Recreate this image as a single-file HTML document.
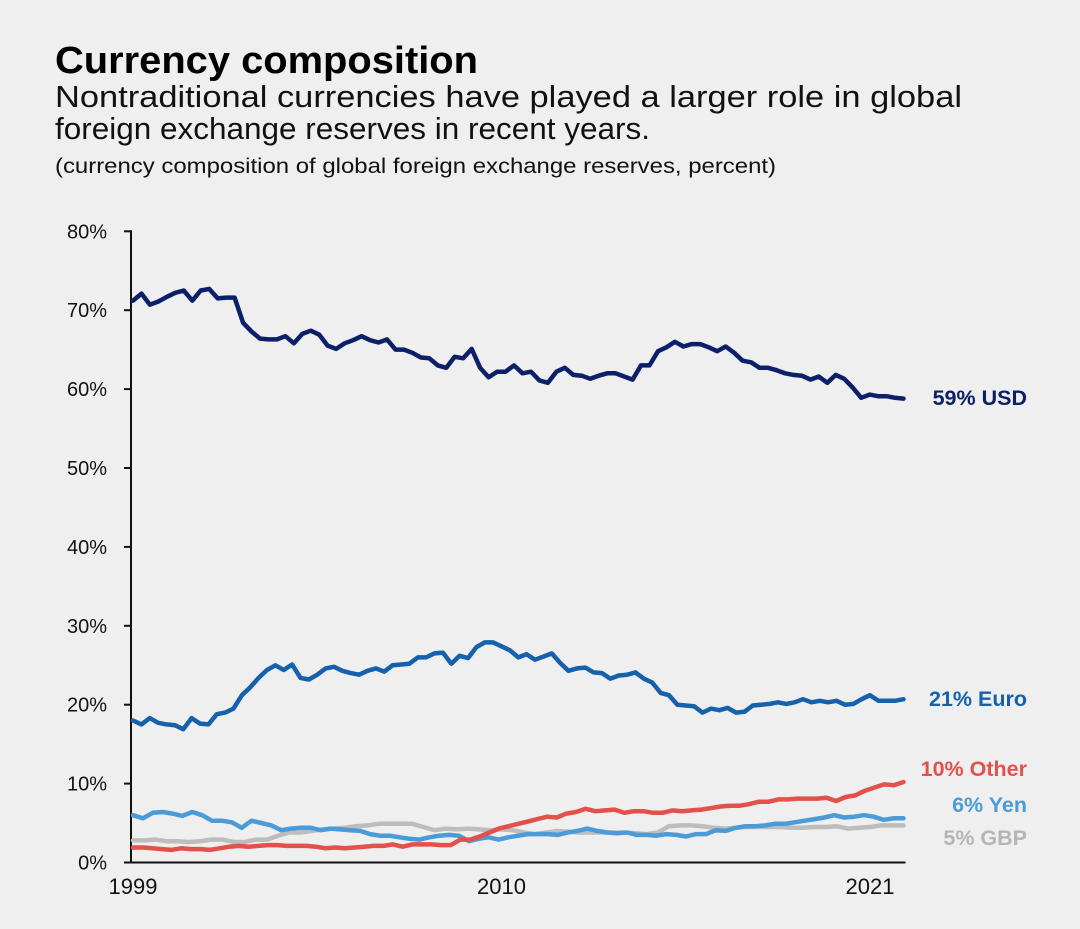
<!DOCTYPE html>
<html><head><meta charset="utf-8"><style>
html,body{margin:0;padding:0;background:#efefef;}
svg{display:block;font-family:"Liberation Sans",sans-serif;}
</style></head><body>
<svg id="chart" width="1080" height="929" viewBox="0 0 1080 929">
<rect x="0" y="0" width="1080" height="929" fill="#efefef"/>
<text x="55" y="73" font-size="38" font-weight="bold" fill="#000" textLength="423" lengthAdjust="spacingAndGlyphs">Currency composition</text>
<text x="55" y="107" font-size="31" fill="#111" textLength="907" lengthAdjust="spacingAndGlyphs">Nontraditional currencies have played a larger role in global</text>
<text x="55" y="139" font-size="31" fill="#111" textLength="595" lengthAdjust="spacingAndGlyphs">foreign exchange reserves in recent years.</text>
<text x="55" y="173" font-size="21" fill="#111" textLength="721" lengthAdjust="spacingAndGlyphs">(currency composition of global foreign exchange reserves, percent)</text>
<g id="axes"></g>
<g id="series"></g>
<g id="labels"></g>
</svg>
<script>
const yTicks=[0,10,20,30,40,50,60,70,80];
const xTickYears=[1999,2010,2021];
const usd=[71.2,72.1,70.7,71.1,71.7,72.2,72.5,71.2,72.5,72.7,71.5,71.6,71.6,68.4,67.3,66.4,66.3,66.3,66.7,65.8,67.0,67.4,66.9,65.5,65.1,65.8,66.2,66.7,66.2,65.9,66.3,65.0,65.0,64.6,64.0,63.9,63.0,62.7,64.1,63.9,65.1,62.7,61.5,62.2,62.2,63.0,62.0,62.2,61.1,60.8,62.2,62.7,61.8,61.7,61.3,61.7,62.0,62.0,61.6,61.2,63.0,63.0,64.8,65.3,66.0,65.4,65.7,65.7,65.3,64.8,65.4,64.6,63.6,63.4,62.7,62.7,62.4,62.0,61.8,61.7,61.2,61.6,60.8,61.8,61.3,60.2,58.9,59.3,59.1,59.1,58.9,58.8];
const euro=[18.0,17.5,18.3,17.7,17.5,17.4,16.9,18.3,17.6,17.5,18.8,19.0,19.5,21.2,22.2,23.4,24.4,25.0,24.4,25.1,23.4,23.2,23.8,24.6,24.8,24.3,24.0,23.8,24.3,24.6,24.2,25.0,25.1,25.2,26.0,26.0,26.5,26.6,25.2,26.2,25.9,27.3,27.9,27.9,27.4,26.9,26.0,26.4,25.7,26.1,26.5,25.3,24.3,24.6,24.7,24.1,24.0,23.3,23.7,23.8,24.1,23.3,22.8,21.5,21.2,20.0,19.9,19.8,19.0,19.5,19.3,19.6,19.0,19.1,19.9,20.0,20.1,20.3,20.1,20.3,20.7,20.3,20.5,20.3,20.5,20.0,20.1,20.7,21.2,20.5,20.5,20.5,20.7];
const yen=[6.0,5.6,6.3,6.4,6.2,5.9,6.4,6.0,5.3,5.3,5.1,4.4,5.3,5.0,4.7,4.1,4.3,4.4,4.4,4.1,4.3,4.2,4.1,4.0,3.6,3.4,3.4,3.2,3.0,2.9,3.2,3.4,3.5,3.4,2.7,3.0,3.2,2.9,3.2,3.4,3.6,3.6,3.6,3.5,3.8,4.0,4.3,4.0,3.8,3.7,3.8,3.5,3.5,3.4,3.6,3.5,3.3,3.6,3.6,4.1,4.0,4.4,4.6,4.6,4.7,4.9,4.9,5.1,5.3,5.5,5.7,6.0,5.7,5.8,6.0,5.8,5.4,5.6,5.6];
const gbp=[2.8,2.8,2.9,2.7,2.7,2.6,2.7,2.9,2.9,2.6,2.6,2.9,2.9,3.4,3.8,3.8,4.0,4.2,4.3,4.4,4.6,4.7,4.9,4.9,4.9,4.9,4.5,4.1,4.3,4.2,4.3,4.2,4.1,4.2,4.1,3.8,3.6,3.8,4.0,3.9,3.8,3.8,3.8,3.8,3.8,3.7,3.6,3.8,4.6,4.7,4.7,4.6,4.4,4.3,4.4,4.5,4.5,4.5,4.5,4.4,4.4,4.5,4.5,4.6,4.3,4.4,4.5,4.7,4.7,4.7];
const other=[1.9,1.9,1.8,1.7,1.6,1.8,1.7,1.7,1.6,1.8,2.0,2.1,2.0,2.1,2.2,2.2,2.1,2.1,2.1,2.0,1.8,1.9,1.8,1.9,2.0,2.1,2.1,2.3,2.0,2.3,2.3,2.3,2.2,2.2,2.9,2.9,3.3,3.8,4.3,4.6,4.9,5.2,5.5,5.8,5.7,6.2,6.4,6.8,6.5,6.6,6.7,6.3,6.5,6.5,6.3,6.3,6.6,6.5,6.6,6.7,6.9,7.1,7.2,7.2,7.4,7.7,7.7,8.0,8.0,8.1,8.1,8.1,8.2,7.8,8.3,8.5,9.1,9.5,9.9,9.8,10.2];
const seriesNames=["USD","Euro","Yen","GBP","Other"];
const labelTexts=["59% USD","21% Euro","6% Yen","5% GBP","10% Other"];
const startYear=1999, endYear=2022;

const NS="http://www.w3.org/2000/svg";
const X0=133, PXY=33.5, Y0=862.5, PXV=7.89;
function xScale(yr){return X0+(yr-startYear)*PXY;}
function yScale(v){return Y0-v*PXV;}
function mk(tag,attrs,parent){const e=document.createElementNS(NS,tag);for(const k in attrs)e.setAttribute(k,attrs[k]);parent.appendChild(e);return e;}
const axes=document.getElementById('axes');
const yAxis=mk('line',{x1:131,y1:yScale(80)-1,x2:131,y2:Y0+1,stroke:'#111','stroke-width':2},axes);


const xAxis=mk('line',{x1:130,y1:Y0,x2:xScale(endYear)+2,y2:Y0,stroke:'#111','stroke-width':2},axes);


yTicks.forEach(t=>{
  const tk=mk('line',{x1:124,y1:yScale(t),x2:131,y2:yScale(t),stroke:'#111','stroke-width':2},axes);
  
  
  const lb=mk('text',{x:107,y:yScale(t)+7,'text-anchor':'end','font-size':20,fill:'#111'},axes);
  
  
  lb.textContent=t+'%';
});
xTickYears.forEach(yr=>{
  const lb=mk('text',{x:xScale(yr),y:894,'text-anchor':'middle','font-size':22,fill:'#111'},axes);
  
  
  lb.textContent=String(yr);
});
const colors={USD:'#0b2068',Euro:'#1561ab',Yen:'#4a9bd8',GBP:'#bdbdbd',Other:'#e3514b'};
const data={USD:usd,Euro:euro,Yen:yen,GBP:gbp,Other:other};
const order=["GBP","Yen","Other","Euro","USD"];
const sg=document.getElementById('series');
order.forEach(n=>{
  const vals=data[n];const N=vals.length;
  const pts=vals.map((v,i)=>{const yr=startYear+(endYear-startYear)*i/(N-1);return xScale(yr).toFixed(1)+','+yScale(v).toFixed(1);}).join(' ');
  const pl=mk('polyline',{points:pts,fill:'none',stroke:colors[n],'stroke-width':4.5,'stroke-linejoin':'round','stroke-linecap':'round'},sg);
  
  
});
const lg=document.getElementById('labels');
const labelY={USD:405,Euro:706,Other:776,Yen:812,GBP:845};
seriesNames.forEach((n,i)=>{
  const t=mk('text',{x:1027,y:labelY[n],'text-anchor':'end','font-size':21.5,'font-weight':'bold',fill:colors[n]==='#bdbdbd'?'#b5b5b5':colors[n]},lg);
  
  
  t.textContent=labelTexts[i];
});
</script>
</body></html>
